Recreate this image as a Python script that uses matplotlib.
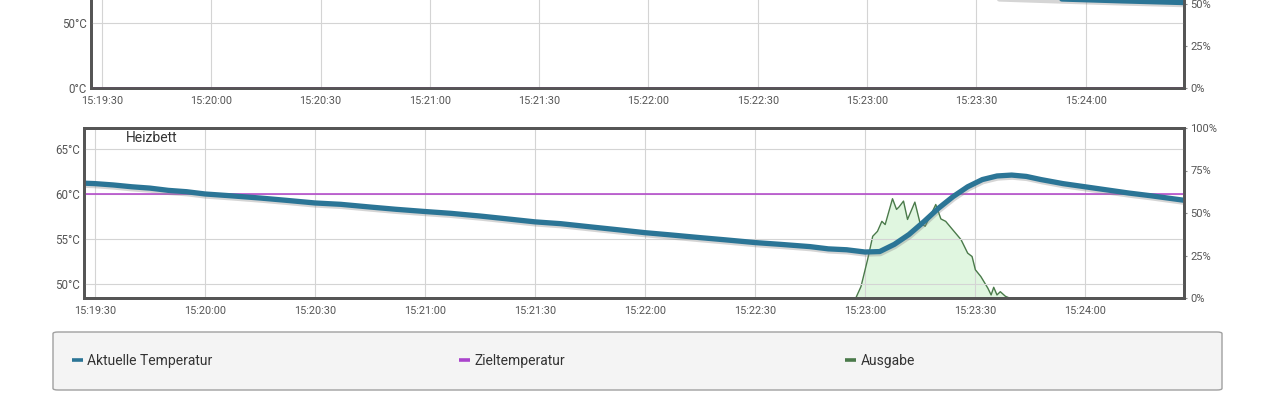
#importing packages
import datetime as dt
import matplotlib
matplotlib.use("Agg")
import matplotlib.pyplot as plt
import matplotlib.dates as mdates
import matplotlib.patheffects as pe
from matplotlib.lines import Line2D
from matplotlib.patches import FancyBboxPatch

plt.rcParams['font.family'] = ['Roboto', 'DejaVu Sans']

#data: seconds after 15:19:30
bed_t = [-3, 0, 5, 10, 15, 20, 25, 30, 37, 45, 52, 60, 67, 75, 82, 90, 97, 105, 112, 120, 127,
         135, 142, 150, 157, 165, 172, 180, 187, 195, 200, 205, 210,
         214, 218, 222, 226, 230, 234, 238, 242, 246, 250, 254, 258, 264, 270, 276, 282, 288, 297]
bed_temp = [61.2, 61.15, 61.0, 60.8, 60.65, 60.4, 60.25, 60.0, 59.8, 59.55, 59.3, 59.0, 58.85,
            58.55, 58.3, 58.05, 57.85, 57.55, 57.25, 56.9, 56.7, 56.35, 56.05, 55.7, 55.45, 55.15,
            54.9, 54.6, 54.4, 54.15, 53.9, 53.8, 53.55, 53.6, 54.4, 55.5, 56.9, 58.4, 59.7, 60.8,
            61.6, 62.0, 62.1, 61.95, 61.6, 61.15, 60.8, 60.45, 60.1, 59.8, 59.3]
bed_target = [60, 60]

out_t = [-3, 207.5, 208.9, 210.7, 212.1, 213.4, 214.6, 215.5, 217.5, 218.6, 219.3, 220.5, 221.6,
         223.6, 225.0, 226.4, 228.0, 229.3, 230.7, 232.0, 233.9, 236.2, 238.0, 239.2, 240.1,
         241.6, 243.5, 244.4, 245.1, 246.0, 246.9, 248.3, 249.4, 297]
out_pct = [0, 0, 6.7, 22.5, 36.3, 39.2, 45.1, 43.2, 58.4, 52.1, 53.6, 57.0, 46.2, 56.4, 44.2,
           42.2, 49.1, 55.0, 46.5, 45.1, 40.2, 34.3, 26.4, 24.4, 16.6, 12.6, 5.8, 1.8, 6.3, 1.8,
           3.7, 1.0, 0, 0]

hot_t = [-3, 30, 60, 90, 120, 150, 180, 210, 240, 250, 265, 280, 297]
hot_temp = [98, 94, 90, 86.5, 83, 80, 77, 74, 70.6, 69.7, 68.3, 67.0, 65.7]
hot_target = [0, 0]
hot_out = [0, 0]

span_t = [-3, 297]
legend_labels = ['Aktuelle Temperatur', 'Zieltemperatur', 'Ausgabe']

#colours
blue = '#2b7596'
purple = '#b040c8'
green = '#4a7a4a'
frame = '#555555'

t0 = dt.datetime(2020, 1, 1, 15, 19, 30)
def times(secs):
    return [t0 + dt.timedelta(seconds=s) for s in secs]

fig = plt.figure(figsize=(12.72, 4.05), dpi=100)

def panel(rect, ylim, yticks, temp_t, temp, target, o_t, o, title=None):
    pax = fig.add_axes(rect)
    tax = pax.twinx()
    # output (percent) behind temperatures
    pax.fill_between(times(o_t), o, 0, color='#c8f0c8', alpha=0.55, lw=0)
    pax.plot(times(o_t), o, color=green, lw=1)
    pax.set_ylim(0, 100)
    pax.set_yticks([0, 25, 50, 75, 100])
    pax.set_yticklabels(['0%', '25%', '50%', '75%', '100%'])
    pax.yaxis.tick_right()
    pax.tick_params(axis='y', length=2.5, width=0.8, color='#888', pad=2,
                    labelsize=8, labelcolor=frame)
    pax.xaxis.set_major_locator(mdates.SecondLocator(bysecond=[0, 30]))
    pax.xaxis.set_major_formatter(mdates.DateFormatter('%H:%M:%S'))
    pax.tick_params(axis='x', length=0, pad=6, labelsize=7.8, labelcolor=frame)
    pax.grid(axis='x', color='#d4d4d4', lw=0.8)
    pax.set_xlim(times(span_t))

    tax.plot(times(span_t), target, color=purple, lw=1.1)
    tax.plot(times(temp_t), temp, color=blue, lw=3.8, solid_capstyle='round',
             path_effects=[pe.SimpleLineShadow(offset=(0.5, -1.5), shadow_color='#888', alpha=0.35),
                           pe.Normal()])
    tax.set_ylim(*ylim)
    tax.set_yticks(yticks)
    tax.set_yticklabels(['%d°C' % v for v in yticks])
    tax.yaxis.tick_left()
    tax.tick_params(axis='y', length=0, pad=3, labelsize=8.3, labelcolor=frame)
    tax.grid(axis='y', color='#d4d4d4', lw=0.8)
    tax.set_xlim(times(span_t))
    for a in (pax, tax):
        for s in a.spines.values():
            s.set_color(frame)
            s.set_linewidth(2)
    if title:
        tax.text(0.038, 0.94, title, transform=tax.transAxes, fontsize=10,
                 color='#333', va='center', ha='left')
    return pax, tax

#top panel (mostly above the visible area)
panel([91/1272, (405-88)/405, 1093/1272, 168/405], (0, 129.2), [0, 50, 100],
      hot_t, hot_temp, hot_target, span_t, hot_out)

#bottom panel: Heizbett
panel([84/1272, (405-298)/405, 1100/1272, 170/405], (48.44, 67.33), [50, 55, 60, 65],
      bed_t, bed_temp, bed_target, out_t, out_pct, title='Heizbett')

#legend box
box = FancyBboxPatch((53/1272, (405-390)/405), 1169/1272, 58/405,
                     boxstyle='round,pad=0,rounding_size=0.004', transform=fig.transFigure,
                     facecolor='#f4f4f4', edgecolor='#a0a0a0', lw=1)
fig.patches.append(box)
for label, col, xpos in zip(legend_labels, [blue, '#aa44cc', green], [72, 459, 845]):
    h = Line2D([], [], color=col, lw=2.6, solid_capstyle='butt')
    leg = fig.legend(handles=[h], labels=[label], loc='center left',
                     bbox_to_anchor=(xpos/1272, (405-361)/405), frameon=False,
                     fontsize=10, handlelength=0.8, handletextpad=0.3,
                     borderpad=0, borderaxespad=0)
    for txt in leg.get_texts():
        txt.set_color('#333')

fig.savefig('out.png', dpi=100)
